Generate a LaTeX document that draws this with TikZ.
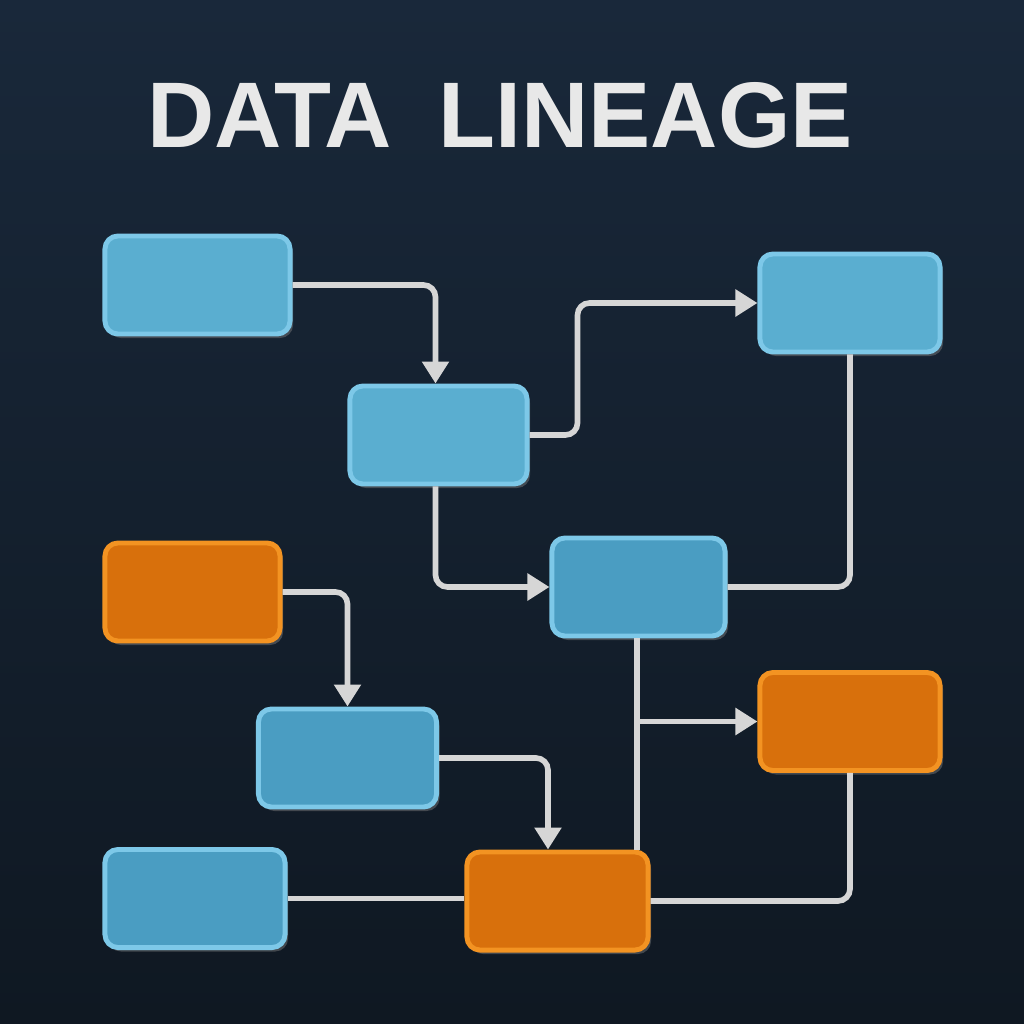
\documentclass[tikz,border=0pt]{standalone}
\usepackage{fontspec}
\newfontfamily\titlefont{Liberation Sans}
\usetikzlibrary{arrows.meta,shadows}

\definecolor{bgtop}{HTML}{19283A}
\definecolor{bgbot}{HTML}{0F1822}
\definecolor{bluefill}{HTML}{5AAED0}
\definecolor{bluedeep}{HTML}{4A9DC2}
\definecolor{blueedge}{HTML}{7DC8E8}
\definecolor{orangefill}{HTML}{D8700C}
\definecolor{orangeedge}{HTML}{F39322}
\definecolor{wire}{HTML}{D6D6D6}
\definecolor{titlegray}{HTML}{E8E8E8}

\def\boxw{1.78cm}
\def\boxh{0.98cm}

\begin{document}
\begin{tikzpicture}[x=0.01cm,y=-0.01cm]
    \tikzstyle{table}=[rectangle,rounded corners=0.13cm,line width=1.4pt,minimum width=\boxw,minimum height=\boxh,inner sep=0pt,drop shadow={shadow xshift=0.03cm,shadow yshift=-0.04cm,opacity=0.45}]
    \tikzstyle{src}=[table,fill=bluefill,draw=blueedge]
    \tikzstyle{mid}=[table,fill=bluedeep,draw=blueedge]
    \tikzstyle{sink}=[table,fill=orangefill,draw=orangeedge]
    \tikzstyle{flow}=[draw=wire,line width=1.6pt,rounded corners=0.12cm]
    \tikzstyle{feed}=[flow,-{Triangle[length=0.22cm,width=0.26cm]}]

    \shade[top color=bgtop,bottom color=bgbot] (0,0) rectangle (1024,1024);
    \useasboundingbox (0,0) rectangle (1024,1024);

    \node[text=titlegray,font=\titlefont\bfseries\fontsize{26.5}{30}\selectfont] (title) at (500,115) {DATA\hspace{0.5em}LINEAGE};

    \node[src,minimum width=1.85cm] (raw) at (197.5,285) {};
    \node[src,minimum width=1.77cm] (clean) at (438.5,435) {};
    \node[src,minimum width=1.80cm] (report) at (850,303) {};
    \node[mid,minimum width=1.73cm] (model) at (638.5,587) {};
    \node[sink,minimum width=1.75cm] (ingest) at (192.5,592) {};
    \node[mid] (stage) at (347.5,758) {};
    \node[sink,minimum width=1.80cm] (export) at (850,721.5) {};
    \node[mid,minimum width=1.80cm] (lookup) at (195,898.5) {};
    \node[sink,minimum width=1.81cm] (store) at (557.5,901) {};

    \draw[feed] (raw.east) -| ([xshift=-0.03cm]clean.north);
    \draw[feed] (clean.east) -- ++(48,0) |- (report.west);
    \draw[feed] ([xshift=-0.03cm]clean.south) |- (model.west);
    \draw[flow] (report.south) |- (model.east);
    \draw[feed] (ingest.east) -| (stage.north);
    \coordinate (split) at ([xshift=-0.015cm]model.south |- export.west);
    \draw[flow] ([xshift=-0.015cm]model.south) -- ([xshift=-0.015cm]model.south |- store.north);
    \draw[feed] (split) -- (export.west);
    \draw[feed] (stage.east) -| ([xshift=-0.095cm]store.north);
    \draw[flow] (lookup.east) -- (lookup.east -| store.west);
    \draw[flow] (export.south) |- (store.east);
\end{tikzpicture}
\end{document}
